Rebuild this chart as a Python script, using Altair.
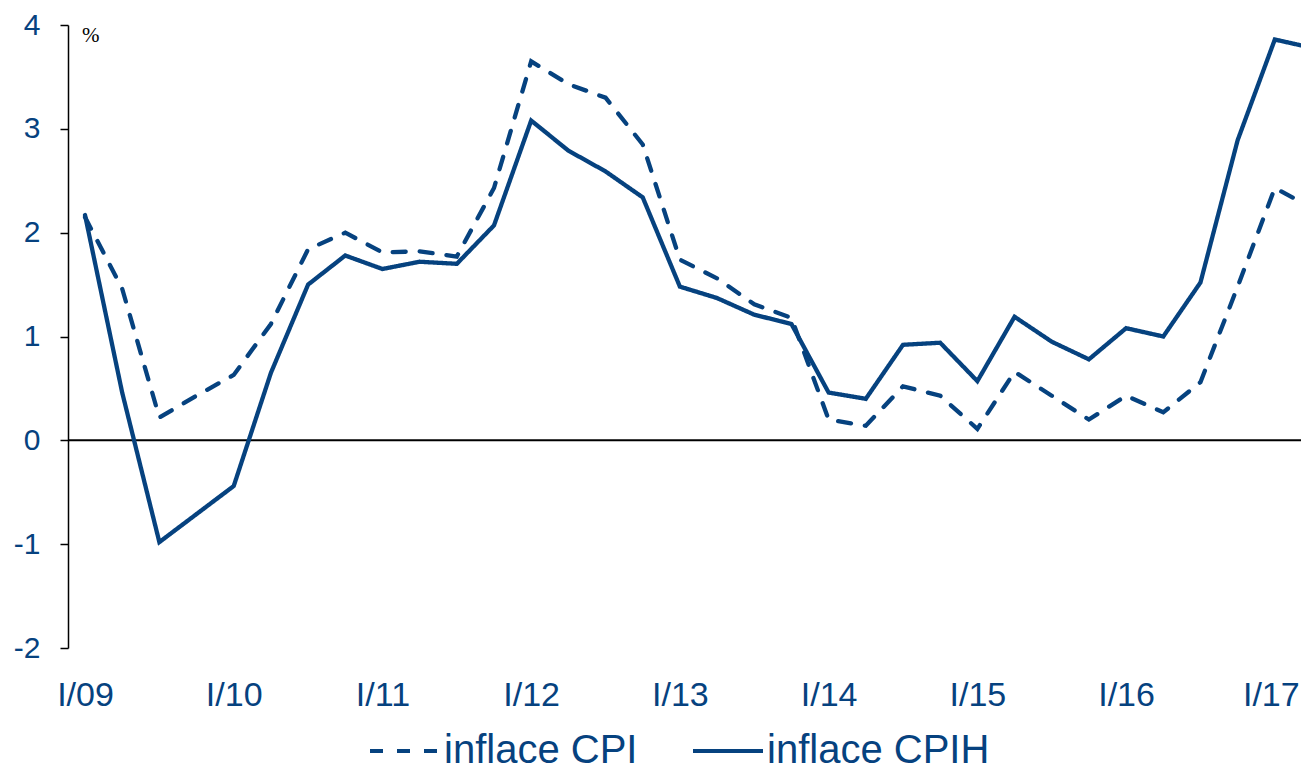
import altair as alt
import pandas as pd

# Quarterly categories I/09 .. II/17
roman = ["I", "II", "III", "IV"]
years = ["09", "10", "11", "12", "13", "14", "15", "16", "17"]
quarters = [f"{q}/{y}" for y in years for q in roman][:34]
tick_labels = ["I/09", "I/10", "I/11", "I/12", "I/13", "I/14", "I/15", "I/16", "I/17"]

cpi = [2.15, 1.46, 0.22, 0.43, 0.63, 1.12, 1.84, 2.00, 1.81, 1.82, 1.77, 2.43,
       3.65, 3.43, 3.30, 2.85, 1.74, 1.56, 1.31, 1.18, 0.20, 0.14, 0.52, 0.43,
       0.11, 0.66, 0.43, 0.20, 0.43, 0.27, 0.56, 1.48, 2.43, 2.24]
cpih = [2.17, 0.46, -0.98, -0.71, -0.44, 0.65, 1.50, 1.78, 1.65, 1.72, 1.70, 2.07,
        3.08, 2.79, 2.59, 2.34, 1.48, 1.37, 1.21, 1.12, 0.46, 0.40, 0.92, 0.94,
        0.57, 1.19, 0.95, 0.78, 1.08, 1.00, 1.52, 2.89, 3.86, 3.78]
series_names = ["inflace CPI", "inflace CPIH"]

BLUE = "#06427f"
FONT = "Liberation Sans"

rows = []
for name, vals in zip(series_names, [cpi, cpih]):
    for q, v in zip(quarters, vals):
        rows.append({"q": q, "v": v, "s": name})
df = pd.DataFrame(rows)

xscale = alt.Scale(type="point", domain=quarters, range=[17, 1244], padding=0)

lines = alt.Chart(df).mark_line(strokeWidth=4.3, strokeCap="round", strokeJoin="miter",
                                clip=True, color=BLUE).encode(
    x=alt.X("q:O", sort=quarters, scale=xscale, title=None,
            axis=alt.Axis(values=tick_labels, labelAngle=0, ticks=False, tickSize=0,
                          domain=False, labelFontSize=34, labelFont=FONT,
                          labelColor=BLUE, labelPadding=30,
                          labelOffset={"condition": {"test": "datum.label === 'I/17'",
                                                     "value": -4},
                                       "value": 0})),
    y=alt.Y("v:Q", scale=alt.Scale(domain=[-2, 4], nice=False), title=None,
            axis=alt.Axis(values=[-2, -1, 0, 1, 2, 3, 4], labelExpr="'' + datum.value",
                          grid=False, tickSize=8, tickColor="black", tickWidth=1.5,
                          domainColor="black", domainWidth=1.5, labelFontSize=30,
                          labelFont=FONT, labelColor=BLUE, labelPadding=20)),
    strokeDash=alt.StrokeDash("s:N", scale=alt.Scale(domain=series_names,
                                                     range=[[13, 14], [1, 0]]),
                              legend=alt.Legend(title=None, orient="none",
                                                direction="horizontal",
                                                legendX=300, legendY=689,
                                                symbolType="stroke", symbolSize=4900,
                                                symbolStrokeWidth=4,
                                                symbolStrokeColor=BLUE,
                                                labelFontSize=40, labelFont=FONT,
                                                labelColor=BLUE, labelOffset=2,
                                                columnPadding=47, labelLimit=400)),
)

zero = alt.Chart(pd.DataFrame({"y": [0]})).mark_rule(color="black", strokeWidth=2).encode(
    y="y:Q")

pct = alt.Chart(pd.DataFrame({"t": ["%"]})).mark_text(
    font="Liberation Serif", fontSize=21, color="black", align="left", baseline="bottom"
).encode(x=alt.value(14), y=alt.value(21), text="t:N")

chart = alt.layer(zero, lines, pct).properties(
    width=1233, height=623,
    autosize=alt.AutoSizeParams(type="none"),
    padding={"left": 60, "top": 17, "right": 0, "bottom": 123},
).configure_view(stroke=None)

chart.save("out.html", embed_options={"renderer": "svg", "actions": False})
